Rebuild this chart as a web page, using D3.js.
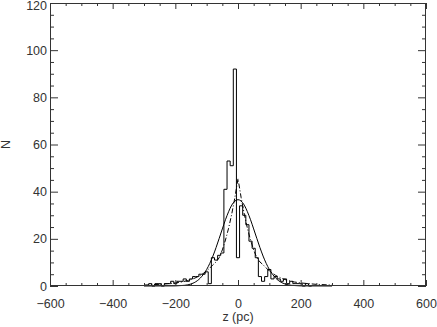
<!DOCTYPE html>
<html>
<head>
<meta charset="utf-8">
<script src="https://cdn.jsdelivr.net/npm/d3@7"></script>
<style>
  body { margin: 0; background: #fff; }
  svg { display: block; font-family: "Liberation Sans", Arial, sans-serif; }
</style>
</head>
<body>
<svg id="chart" width="437" height="327"></svg>
<script>
// histogram: bin centres (pc) and counts
const histZ = [-280, -270, -260, -250, -240, -230, -220, -210, -200, -190,
  -180, -170, -160, -150, -140, -130, -120, -110, -100, -90,
  -80, -70, -60, -50, -40, -30, -20, -10, 0, 10,
  20, 30, 40, 50, 60, 70, 80, 90, 100, 110,
  120, 130, 140, 150, 160, 170, 180, 190, 200, 210, 220, 230];
const histN = [1, 0, 1, 1, 0, 1, 1, 2, 1, 2,
  2, 3, 2, 3, 4, 4, 5, 5, 6, 1,
  12, 11, 13, 14, 41, 53, 51, 92, 12, 34,
  30, 26, 19, 16, 12, 4, 2, 4, 7, 3,
  4, 3, 2, 3, 1, 2, 1, 1, 1, 0, 1, 0];

// solid fit (gaussian-like)
const gaussZ = [-300, -200, -180, -160, -140, -120, -110, -100, -90, -80, -70, -60, -50, -40, -30, -20, -10, 0,
  10, 20, 30, 40, 50, 60, 70, 80, 90, 100, 110, 120, 140, 160, 180, 200, 300];
const gaussN = [0, 0.05, 0.2, 0.5, 1.4, 3.4, 5.0, 7.0, 9.6, 12.7, 16.3, 20.2, 24.2, 28.1, 31.5, 34.3, 36.0, 36.6,
  36.0, 34.3, 31.5, 28.1, 24.2, 20.2, 16.3, 12.7, 9.6, 7.0, 5.0, 3.4, 1.4, 0.5, 0.2, 0.05, 0];

// dash-dot fit (cusped)
const dashZ = [-300, -250, -200, -180, -160, -140, -120, -110, -100, -90, -80, -70, -60, -50, -40, -30, -20, -10, -5, 0,
  5, 10, 20, 30, 40, 50, 60, 70, 80, 90, 100, 110, 120, 140, 160, 180, 200, 250, 300];
const dashN = [0.4, 0.7, 1.3, 1.7, 2.3, 3.2, 4.5, 5.4, 6.4, 7.6, 9.0, 10.2, 12.0, 15.3, 19.5, 24.5, 30.5, 37.5, 41.5, 45.5,
  41.5, 37.5, 30.5, 24.5, 19.5, 15.3, 12.0, 10.2, 9.0, 7.6, 6.4, 5.4, 4.5, 3.2, 2.3, 1.7, 1.3, 0.7, 0.4];

const xTicks = [-600, -400, -200, 0, 200, 400, 600];
const yTicks = [0, 20, 40, 60, 80, 100, 120];

const width = 437, height = 327;
const margin = { top: 3, right: 11, bottom: 41, left: 50 };

const svg = d3.select("#chart");

const x = d3.scaleLinear().domain([-600, 600]).range([margin.left, width - margin.right]);
const y = d3.scaleLinear().domain([0, 120]).range([height - margin.bottom, margin.top]);

const fmt = (d) => (d < 0 ? "\u2212" + Math.abs(d) : String(d));

const addHist = () => {
  const w = histZ[1] - histZ[0];
  const pts = [{ z: histZ[0] - w / 2, n: 0 }];
  histZ.forEach((z, i) => pts.push({ z: z - w / 2, n: histN[i] }));
  pts.push({ z: histZ[histZ.length - 1] + w / 2, n: 0 });
  const line = d3.line()
    .x((d) => x(d.z))
    .y((d) => y(d.n))
    .curve(d3.curveStepAfter);
  svg.append("path")
    .attr("d", line(pts))
    .attr("fill", "none")
    .attr("stroke", "#000")
    .attr("stroke-width", 1);
};

const addCurves = () => {
  const gLine = d3.line()
    .x((d, i) => x(gaussZ[i]))
    .y((d) => y(d))
    .curve(d3.curveMonotoneX);
  svg.append("path")
    .attr("d", gLine(gaussN))
    .attr("fill", "none")
    .attr("stroke", "#000")
    .attr("stroke-width", 1);

  const dLine = d3.line()
    .x((d, i) => x(dashZ[i]))
    .y((d) => y(d));
  svg.append("path")
    .attr("d", dLine(dashN))
    .attr("fill", "none")
    .attr("stroke", "#000")
    .attr("stroke-width", 1)
    .attr("stroke-dasharray", "5,2,1,2");
};

const addAxes = () => {
  const x0 = height - margin.bottom, y0 = margin.left;
  const xMinor = d3.range(-600, 601, 50).filter((v) => v % 200 !== 0);
  const yMinor = d3.range(0, 121, 5).filter((v) => v % 20 !== 0);

  const axes = [
    [d3.axisBottom(x).tickValues(xTicks).tickSizeInner(-6).tickPadding(13).tickFormat(fmt), `translate(0,${x0})`],
    [d3.axisBottom(x).tickValues(xMinor).tickSizeInner(-3).tickFormat(""), `translate(0,${x0})`],
    [d3.axisTop(x).tickValues(xTicks).tickSizeInner(-6).tickFormat(""), `translate(0,${margin.top})`],
    [d3.axisTop(x).tickValues(xMinor).tickSizeInner(-3).tickFormat(""), `translate(0,${margin.top})`],
    [d3.axisLeft(y).tickValues(yTicks).tickSizeInner(-8).tickPadding(3).tickFormat(fmt), `translate(${y0},0)`],
    [d3.axisLeft(y).tickValues(yMinor).tickSizeInner(-4).tickFormat(""), `translate(${y0},0)`],
    [d3.axisRight(y).tickValues(yTicks).tickSizeInner(-8).tickFormat(""), `translate(${width - margin.right},0)`],
    [d3.axisRight(y).tickValues(yMinor).tickSizeInner(-4).tickFormat(""), `translate(${width - margin.right},0)`],
  ];
  axes.forEach(([ax, tr]) => {
    const g = svg.append("g").attr("transform", tr).call(ax.tickSizeOuter(0));
    g.select(".domain").remove();
    g.selectAll("line").attr("stroke", "#333");
    g.selectAll("text").attr("fill", "#333").style("font-size", "12.5px");
  });
  // keep the top label inside the window
  svg.selectAll(".tick text")
    .filter((d) => d === 120)
    .attr("dy", "0.71em")
    .attr("y", -2);

  svg.append("rect")
    .attr("x", margin.left + 0.5)
    .attr("y", margin.top + 0.5)
    .attr("width", width - margin.left - margin.right - 1)
    .attr("height", height - margin.top - margin.bottom - 1)
    .attr("fill", "none")
    .attr("stroke", "#333");
};

const addText = () => {
  svg.append("text")
    .text("z (pc)")
    .attr("text-anchor", "middle")
    .attr("x", x(0))
    .attr("y", 321)
    .attr("fill", "#333")
    .style("font-size", "12.5px");
  svg.append("text")
    .text("N")
    .attr("text-anchor", "middle")
    .attr("transform", `translate(10, ${y(60)}) rotate(-90)`)
    .attr("fill", "#333")
    .style("font-size", "12.5px");
};

addHist();
addCurves();
addAxes();
addText();
</script>
</body>
</html>
